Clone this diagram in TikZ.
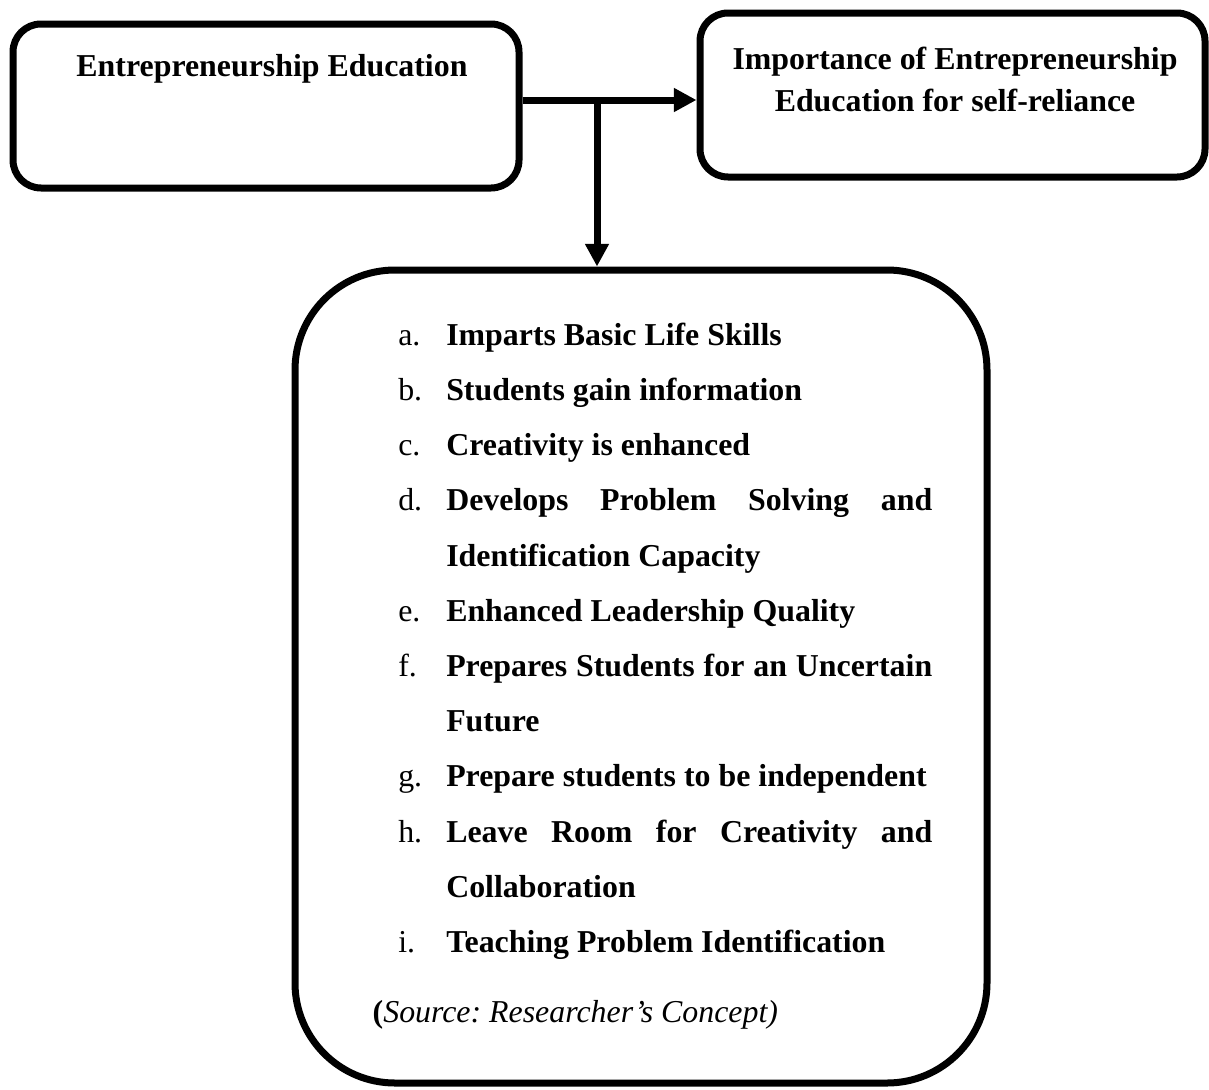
\documentclass[tikz,border=0pt]{standalone}
\usepackage{fontspec}
\setmainfont{Liberation Serif}
\usetikzlibrary{arrows.meta,calc}
\frenchspacing
\newcommand{\pointitem}[2]{\hangindent=36pt\hangafter=1\noindent\strut\makebox[36pt][l]{#1}\textbf{#2}\par}

\begin{document}
\begin{tikzpicture}[x=0.75pt,y=-0.75pt,
  panel/.style={draw=black,line width=5.25pt,fill=white},
  flow/.style={line width=5.25pt,-{Triangle[length=17pt,width=17pt]}},
  bodyfont/.style={font=\fontsize{23.9}{41.4}\selectfont}]
  \useasboundingbox (0,0) rectangle (1209,1089);
  % boxes
  \node[panel,rounded corners=21pt,minimum width=379.5pt,minimum height=123pt] (edu) at (266,106){};
  \node[panel,rounded corners=21pt,minimum width=378.75pt,minimum height=123pt] (goal) at (952.5,95){};
  \node[panel,rounded corners=75pt,minimum width=519pt,minimum height=609.75pt] (list) at (641,676.5){};
  % texts
  \node[bodyfont,anchor=base] (edutitle) at (272,76){\textbf{Entrepreneurship Education}};
  \node[font=\fontsize{23.9}{31.5}\selectfont,align=center,inner sep=0pt,anchor=north] (goaltitle) at (955,39.6){\strut\textbf{Importance of Entrepreneurship}\\\textbf{Education for self-reliance}};
  \node[bodyfont,text width=400.5pt,align=justify,inner sep=0pt,anchor=north west] (points) at (398,306.4){\tolerance=9999\hyphenpenalty=10000
    \pointitem{a.}{Imparts Basic Life Skills}
    \pointitem{b.}{Students gain information}
    \pointitem{c.}{Creativity is enhanced}
    \pointitem{d.}{Develops Problem Solving and Identification Capacity}
    \pointitem{e.}{Enhanced Leadership Quality}
    \pointitem{f.}{Prepares Students for an Uncertain Future}
    \pointitem{g.}{Prepare students to be independent}
    \pointitem{h.}{Leave Room for Creativity and Collaboration}
    \pointitem{i.}{Teaching Problem Identification}};
  \node[bodyfont,anchor=base west] (source) at (368,1022){\textbf{(}\textit{Source: Researcher’s Concept)}};
  % connectors
  \coordinate (split) at (597,100);
  \draw[flow] (edu.east |- split) -- (goal.west |- split);
  \draw[flow] (split) -- (split |- list.north);
\end{tikzpicture}
\end{document}
